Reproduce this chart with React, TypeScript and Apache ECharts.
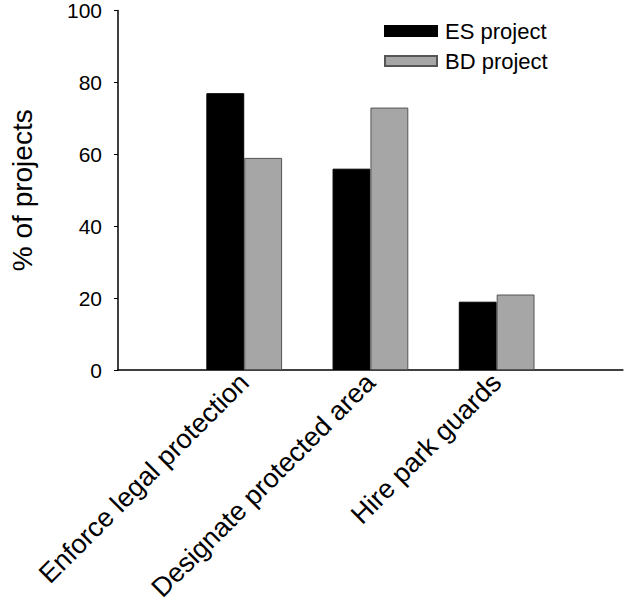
import React, { useEffect, useRef } from "react";
import * as echarts from "echarts";

const categories = ["Enforce legal protection", "Designate protected area", "Hire park guards"];
const esValues = [77, 56, 19];
const bdValues = [59, 73, 21];
const yTicks = { min: 0, max: 100, interval: 20 };

const FONT = "'Liberation Sans', Arial, Helvetica, sans-serif";

export default function App() {
  const ref = useRef<HTMLDivElement>(null);
  useEffect(() => {
    document.body.style.margin = "0";
    if (!ref.current) return;
    const chart = echarts.init(ref.current, null, { renderer: "svg" });
    // pad with empty slots at both ends so the categories sit between the axis ends
    const cats = ["", ...categories, ""];
    const pad = (arr: number[]) => ["-", ...arr, "-"];
    chart.setOption({
      animation: false,
      backgroundColor: "#ffffff",
      textStyle: { fontFamily: FONT, color: "#000" },
      grid: { left: 108, right: 0, top: 8, bottom: 238, containLabel: false },
      legend: {
        orient: "vertical",
        left: 379,
        top: 15,
        itemWidth: 52,
        itemHeight: 10,
        itemGap: 8,
        icon: "rect",
        textStyle: { fontSize: 22, color: "#000", fontFamily: FONT, padding: [0, 0, 0, 3] },
        data: ["ES project", "BD project"],
      },
      xAxis: {
        type: "category",
        data: cats,
        boundaryGap: false,
        axisLine: { lineStyle: { color: "#000", width: 1.5 } },
        axisTick: { show: false },
        axisLabel: {
          interval: 0,
          rotate: 45,
          fontSize: 27,
          color: "#000",
          fontFamily: FONT,
          margin: 8,
        },
        splitLine: { show: false },
      },
      yAxis: {
        type: "value",
        min: yTicks.min,
        max: yTicks.max,
        interval: yTicks.interval,
        name: "% of projects",
        nameLocation: "middle",
        nameRotate: 90,
        nameGap: 82,
        nameTextStyle: { fontSize: 28, color: "#000", fontFamily: FONT },
        axisLine: { show: true, lineStyle: { color: "#000", width: 1.5 } },
        axisTick: { show: true, inside: false, length: 4, lineStyle: { color: "#000" } },
        axisLabel: { fontSize: 21, color: "#000", fontFamily: FONT, margin: 16 },
        splitLine: { show: false },
      },
      series: [
        {
          name: "ES project",
          type: "bar",
          data: pad(esValues),
          barWidth: "30%",
          barGap: "0%",
          itemStyle: { color: "#000000", borderColor: "#000000", borderWidth: 1 },
        },
        {
          name: "BD project",
          type: "bar",
          data: pad(bdValues),
          barWidth: "30%",
          barGap: "0%",
          itemStyle: { color: "#a6a6a6", borderColor: "#555555", borderWidth: 1 },
        },
      ],
    });
    return () => chart.dispose();
  }, []);
  return <div ref={ref} style={{ width: 625, height: 608 }} />;
}
